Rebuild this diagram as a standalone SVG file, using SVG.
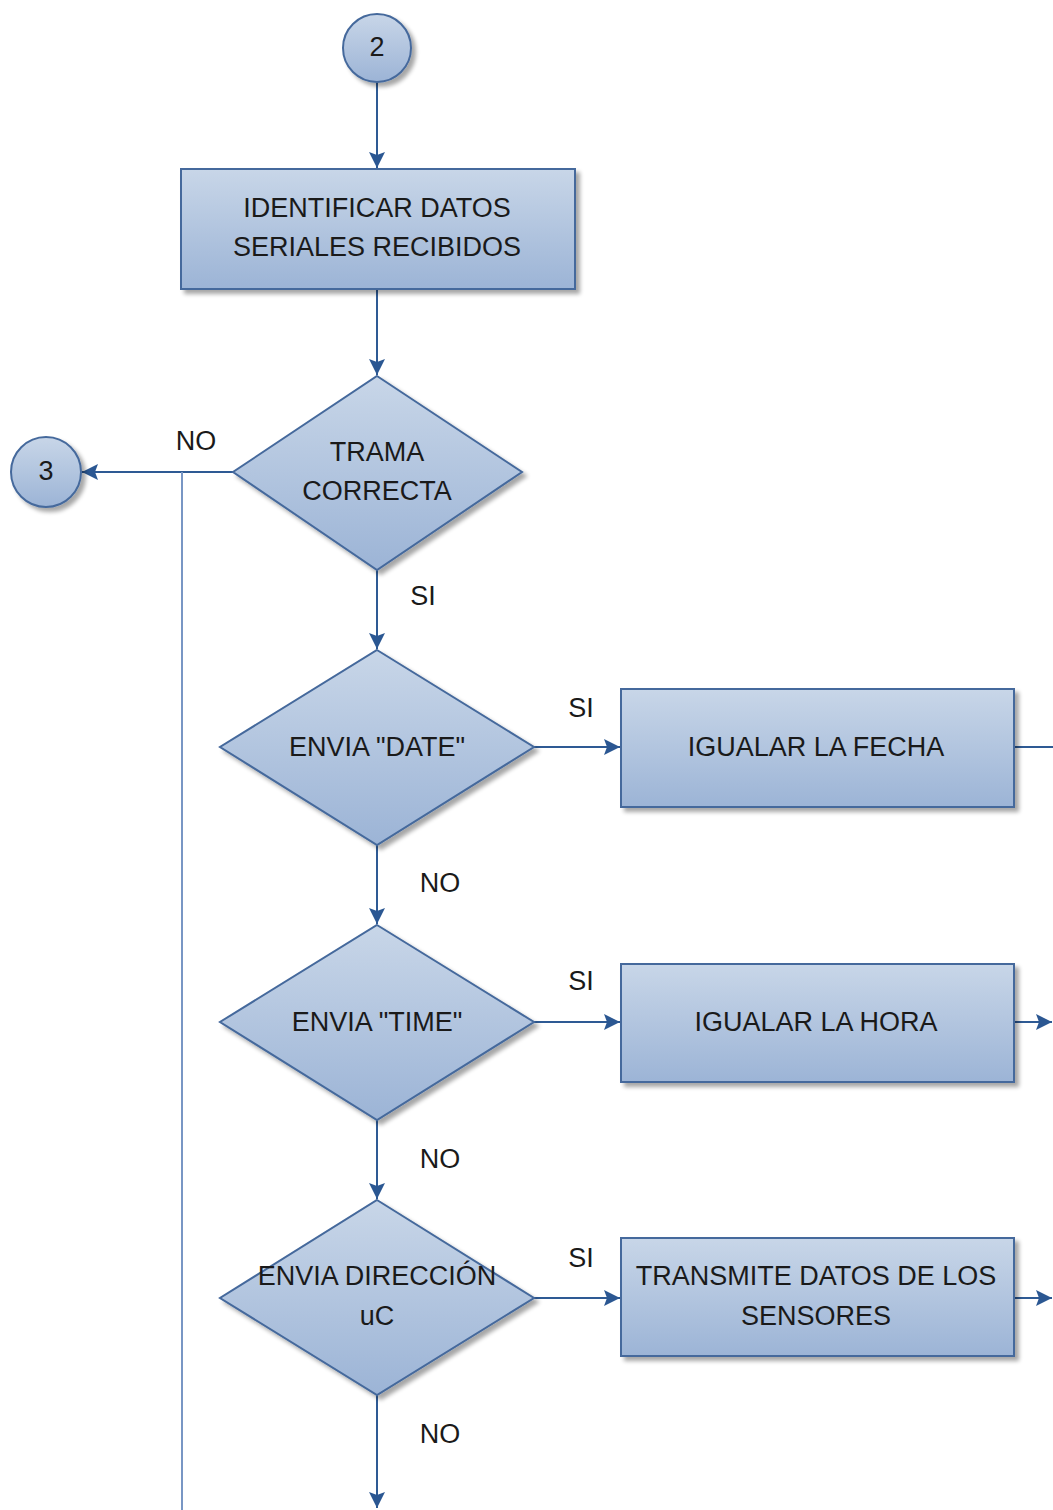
<svg xmlns="http://www.w3.org/2000/svg" width="1053" height="1510" viewBox="0 0 1053 1510">
  <defs>
    <linearGradient id="fill" x1="0" y1="0" x2="0" y2="1">
      <stop offset="0" stop-color="#c8d6e8"/>
      <stop offset="1" stop-color="#9cb4d6"/>
    </linearGradient>
    <filter id="shadow" x="-10%" y="-10%" width="130%" height="130%">
      <feGaussianBlur in="SourceAlpha" stdDeviation="2"/>
      <feOffset dx="4" dy="4" result="b"/>
      <feComponentTransfer><feFuncA type="linear" slope="0.35"/></feComponentTransfer>
      <feMerge><feMergeNode/><feMergeNode in="SourceGraphic"/></feMerge>
    </filter>
    <marker id="arrowBig" viewBox="0 0 16 16" refX="16" refY="8" markerWidth="16" markerHeight="16" markerUnits="userSpaceOnUse" orient="auto">
      <path d="M0,0 L16,8 L0,16 L3,8 Z" fill="#2b5792"/>
    </marker>
  </defs>
  <style>
    .shape { fill: url(#fill); stroke: #45699c; stroke-width: 2; filter: url(#shadow); }
    .label { font-family: "Liberation Sans", Arial, sans-serif; font-size: 27px; fill: #1a1a1a; text-anchor: middle; dominant-baseline: central; }
    .edge { fill: none; stroke: #2e5a94; stroke-width: 2; }
    .edge-light { fill: none; stroke: #7896c4; stroke-width: 2; }
    .elabel { font-family: "Liberation Sans", Arial, sans-serif; font-size: 27px; fill: #1a1a1a; text-anchor: middle; dominant-baseline: central; }
  </style>

  <g id="connectors">
    <line class="edge" x1="377" y1="82" x2="377" y2="168" marker-end="url(#arrowBig)"/>
    <line class="edge" x1="377" y1="290" x2="377" y2="375" marker-end="url(#arrowBig)"/>
    <line class="edge" x1="233" y1="472" x2="82" y2="472" marker-end="url(#arrowBig)"/>
    <line class="edge-light" x1="182" y1="472" x2="182" y2="1510"/>
    <line class="edge" x1="377" y1="570" x2="377" y2="649" marker-end="url(#arrowBig)"/>
    <line class="edge" x1="534" y1="747" x2="620" y2="747" marker-end="url(#arrowBig)"/>
    <line class="edge" x1="1015" y1="747" x2="1053" y2="747"/>
    <line class="edge" x1="377" y1="845" x2="377" y2="924" marker-end="url(#arrowBig)"/>
    <line class="edge" x1="534" y1="1022" x2="620" y2="1022" marker-end="url(#arrowBig)"/>
    <line class="edge" x1="1015" y1="1022" x2="1052" y2="1022" marker-end="url(#arrowBig)"/>
    <line class="edge" x1="377" y1="1120" x2="377" y2="1199" marker-end="url(#arrowBig)"/>
    <line class="edge" x1="534" y1="1298" x2="620" y2="1298" marker-end="url(#arrowBig)"/>
    <line class="edge" x1="1015" y1="1298" x2="1052" y2="1298" marker-end="url(#arrowBig)"/>
    <line class="edge" x1="377" y1="1395" x2="377" y2="1508" marker-end="url(#arrowBig)"/>
    <text class="elabel" x="196" y="441">NO</text>
    <text class="elabel" x="423" y="596">SI</text>
    <text class="elabel" x="581" y="708">SI</text>
    <text class="elabel" x="440" y="883">NO</text>
    <text class="elabel" x="581" y="981">SI</text>
    <text class="elabel" x="440" y="1159">NO</text>
    <text class="elabel" x="581" y="1258">SI</text>
    <text class="elabel" x="440" y="1434">NO</text>
  </g>

  <g id="connector-2">
    <circle class="shape" cx="377" cy="48" r="34"/>
    <text class="label" x="377" y="47">2</text>
  </g>

  <g id="identificar">
    <rect class="shape" x="181" y="169" width="394" height="120"/>
    <text class="label" x="377" y="208">IDENTIFICAR DATOS</text>
    <text class="label" x="377" y="247">SERIALES RECIBIDOS</text>
  </g>

  <g id="trama-correcta">
    <polygon class="shape" points="377,376 522,472 377,570 233,472"/>
    <text class="label" x="377" y="452">TRAMA</text>
    <text class="label" x="377" y="491">CORRECTA</text>
  </g>

  <g id="connector-3">
    <circle class="shape" cx="46" cy="472" r="35"/>
    <text class="label" x="46" y="471">3</text>
  </g>

  <g id="envia-date">
    <polygon class="shape" points="377,650 534,747 377,845 220,747"/>
    <text class="label" x="377" y="747">ENVIA "DATE"</text>
  </g>

  <g id="igualar-fecha">
    <rect class="shape" x="621" y="689" width="393" height="118"/>
    <text class="label" x="816" y="747">IGUALAR LA FECHA</text>
  </g>

  <g id="envia-time">
    <polygon class="shape" points="377,925 534,1022 377,1120 220,1022"/>
    <text class="label" x="377" y="1022">ENVIA "TIME"</text>
  </g>

  <g id="igualar-hora">
    <rect class="shape" x="621" y="964" width="393" height="118"/>
    <text class="label" x="816" y="1022">IGUALAR LA HORA</text>
  </g>

  <g id="envia-direccion">
    <polygon class="shape" points="377,1200 534,1298 377,1395 220,1298"/>
    <text class="label" x="377" y="1276">ENVIA DIRECCIÓN</text>
    <text class="label" x="377" y="1316">uC</text>
  </g>

  <g id="transmite-datos">
    <rect class="shape" x="621" y="1238" width="393" height="118"/>
    <text class="label" x="816" y="1276">TRANSMITE DATOS DE LOS</text>
    <text class="label" x="816" y="1316">SENSORES</text>
  </g>
</svg>
